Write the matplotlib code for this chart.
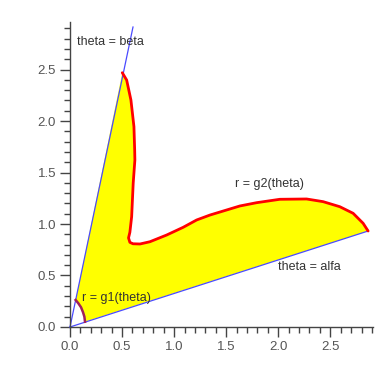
import numpy as np
from matplotlib import pyplot as plt

# boundary angles (rad)
alfa = 0.3147
beta = 1.366
beta_len = 2.975     # how far the theta = beta line is drawn

# r = g1(theta), inner curve, from beta side down to alfa side
g1_x = [0.054, 0.080, 0.106, 0.125, 0.138, 0.144]
g1_y = [0.262, 0.230, 0.191, 0.143, 0.100, 0.051]

# r = g2(theta), outer curve, from beta tip to alfa end
g2_x = [0.502, 0.544, 0.585, 0.614, 0.621, 0.623, 0.607, 0.592, 0.575, 0.562,
        0.575, 0.605, 0.672, 0.768, 0.928, 1.087, 1.216, 1.344, 1.631, 1.792,
        2.015, 2.272, 2.431, 2.591, 2.719, 2.815, 2.863]
g2_y = [2.469, 2.398, 2.204, 1.945, 1.720, 1.621, 1.398, 1.071, 0.920, 0.865,
        0.822, 0.808, 0.806, 0.828, 0.893, 0.968, 1.039, 1.087, 1.175, 1.207,
        1.240, 1.243, 1.217, 1.168, 1.104, 1.007, 0.932]

labels = ["theta = beta", "r = g2(theta)", "theta = alfa", "r = g1(theta)"]
label_x = [0.064, 1.583, 2.0, 0.112]
label_y = [2.77, 1.385, 0.585, 0.282]

plt.rcParams['font.family'] = ['Liberation Sans', 'DejaVu Sans']

fig = plt.figure(figsize=(3.77, 3.82), dpi=100)
ax = fig.add_axes([0.1857, 0.144, 0.8037, 0.798])

# filled region between the curves
px = list(g1_x[::-1]) + list(g2_x)
py = list(g1_y[::-1]) + list(g2_y)
ax.fill(px, py, color='#ffff00', lw=0, zorder=1)

# the two rays
alfa_len = np.hypot(g2_x[-1], g2_y[-1])
ax.plot([0, alfa_len*np.cos(alfa)], [0, alfa_len*np.sin(alfa)], color='#4a4aff', lw=0.9, zorder=2, clip_on=False)
ax.plot([0, beta_len*np.cos(beta)], [0, beta_len*np.sin(beta)], color='#4a4aff', lw=0.9, zorder=2, clip_on=False)

ax.plot(g2_x, g2_y, color='#ff0000', lw=2.0, zorder=3, solid_capstyle='round',
        solid_joinstyle='round', clip_on=False)
ax.plot(g1_x, g1_y, color='#a0205a', lw=1.8, zorder=3, clip_on=False)

for t, x, y in zip(labels, label_x, label_y):
    ax.text(x, y, t, fontsize=9, color='#333333', ha='left', va='center', zorder=4)

ax.set_xlim(0, 2.91)
ax.set_ylim(0, 2.96)
ax.spines['top'].set_visible(False)
ax.spines['right'].set_visible(False)
for s in ['left', 'bottom']:
    ax.spines[s].set_color('#444444')
    ax.spines[s].set_linewidth(1.0)

ax.set_xticks(np.arange(0, 2.91, 0.5))
ax.set_yticks(np.arange(0, 2.96, 0.5))
ax.set_xticks(np.arange(0, 2.91, 0.1), minor=True)
ax.set_yticks(np.arange(0, 2.96, 0.1), minor=True)
ax.set_xticklabels(["%.1f" % v for v in np.arange(0, 2.91, 0.5)])
ax.set_yticklabels(["%.1f" % v for v in np.arange(0, 2.96, 0.5)])
ax.tick_params(which='major', length=7, width=1, color='#444444', labelsize=9.5, labelcolor='#555555', pad=3)
ax.tick_params(which='minor', length=4, width=1, color='#444444')

fig.savefig('out.png', dpi=100, facecolor='white')
